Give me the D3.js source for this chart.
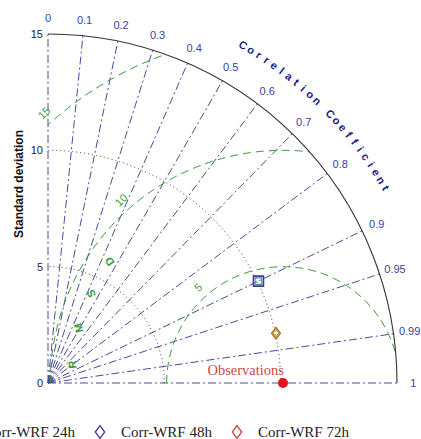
<!DOCTYPE html>
<html>
<head>
<meta charset="utf-8">
<script src="https://cdn.jsdelivr.net/npm/d3@7"></script>
<style>
  html, body { margin: 0; padding: 0; background: #fff; }
  svg { display: block; }
</style>
</head>
<body>
<svg id="chart" width="421" height="439"></svg>
<script>
// Taylor diagram: WRF forecasts against observations

const corrTicks = [0, 0.1, 0.2, 0.3, 0.4, 0.5, 0.6, 0.7, 0.8, 0.9, 0.95, 0.99, 1];
const stdTicks = [0, 5, 10, 15];
const stdGrid = [5, 10];
const rmsdTicks = [5, 10, 15];
const obsStd = 10.1;

// plotted model points
const pointStd = [10.05, 10.03];
const pointCorr = [0.90, 0.977];
const pointShape = ["square", "diamond"];
const pointOuter = ["#4e3590", "#c0702c"];
const pointInner = ["#3a9f9a", "#9fae3a"];

// legend entries
const legendNames = ["Corr-WRF 24h", "Corr-WRF 48h", "Corr-WRF 72h"];
const legendShape = ["square", "diamond", "diamond"];
const legendColor = ["#3a9f6a", "#3a3aa8", "#d04040"];

const svg = d3.select("#chart");
const ox = 48, oy = 383;
const maxStd = 15;
const r = d3.scaleLinear().domain([0, maxStd]).range([0, 349]);

const g = svg.append("g").attr("transform", `translate(${ox},${oy})`);

// helpers: polar -> screen (relative to origin)
const px = (s, a) => r(s) * Math.cos(a);
const py = (s, a) => -r(s) * Math.sin(a);

// clip region: quarter disc of the diagram
svg.append("defs").append("clipPath").attr("id", "quarter")
  .append("path")
  .attr("d", `M0,0 L${r(maxStd)},0 A${r(maxStd)},${r(maxStd)} 0 0 0 0,${-r(maxStd)} Z`);

// correlation rays
const blue = "#4a4a9c";
g.selectAll("line.corr").data(corrTicks).join("line")
  .attr("class", "corr")
  .attr("x1", 0).attr("y1", 0)
  .attr("x2", d => px(maxStd, Math.acos(d)))
  .attr("y2", d => py(maxStd, Math.acos(d)))
  .attr("stroke", blue).attr("stroke-width", 1)
  .attr("stroke-dasharray", "8,3,2,3");

// std dev dotted arcs
const quarterArc = s => {
  const R = r(s);
  return `M${R},0 A${R},${R} 0 0 0 0,${-R}`;
};
g.selectAll("path.stdgrid").data(stdGrid).join("path")
  .attr("class", "stdgrid")
  .attr("d", quarterArc)
  .attr("fill", "none").attr("stroke", "#222").attr("stroke-width", 0.9)
  .attr("stroke-dasharray", "1,3");

// RMSD arcs centred on the observation
const obsX = r(obsStd);
const rmsdG = g.append("g").attr("clip-path", "url(#quarter)");
rmsdG.selectAll("path.rmsd").data(rmsdTicks).join("path")
  .attr("class", "rmsd")
  .attr("d", d => {
    const R = r(d);
    return `M${obsX - R},0 A${R},${R} 0 0 1 ${obsX + R},0`;
  })
  .attr("fill", "none").attr("stroke", "#3a9a3a").attr("stroke-width", 1)
  .attr("stroke-dasharray", "8,5");

// RMSD labels
const rmsdLabelAngle = 131.5 * Math.PI / 180;
g.selectAll("text.rmsdlab").data(rmsdTicks).join("text")
  .attr("class", "rmsdlab")
  .attr("transform", d => {
    const x = obsX + r(d + 0.5) * Math.cos(rmsdLabelAngle);
    const y = -r(d + 0.5) * Math.sin(rmsdLabelAngle);
    return `translate(${x},${y}) rotate(-45)`;
  })
  .attr("text-anchor", "middle").attr("dominant-baseline", "central")
  .attr("font-family", "Liberation Sans, Arial, sans-serif")
  .attr("font-size", 11).attr("fill", "#3a9a3a")
  .text(d => d);

// RMSD title letters along an arc
const rmsdTitle = "RMSD".split("");
const rmsdTitleR = 9.1;
g.selectAll("text.rmsdtitle").data(rmsdTitle).join("text")
  .attr("class", "rmsdtitle")
  .attr("transform", (d, i) => {
    const th = (175 - 10 * i);
    const a = th * Math.PI / 180;
    const x = obsX + r(rmsdTitleR) * Math.cos(a);
    const y = -r(rmsdTitleR) * Math.sin(a);
    return `translate(${x},${y}) rotate(${th - 180 - 90})`;
  })
  .attr("text-anchor", "middle").attr("dominant-baseline", "central")
  .attr("font-family", "Liberation Sans, Arial, sans-serif")
  .attr("font-size", 11).attr("font-weight", "bold").attr("fill", "#3a9a3a")
  .text(d => d);

// outer boundary arc
g.append("path")
  .attr("d", quarterArc(maxStd))
  .attr("fill", "none").attr("stroke", "#333").attr("stroke-width", 1.1);

// correlation tick labels
g.selectAll("text.corrlab").data(corrTicks).join("text")
  .attr("class", "corrlab")
  .attr("x", d => px(15.7, Math.acos(d)))
  .attr("y", d => py(15.7, Math.acos(d)))
  .attr("text-anchor", "middle").attr("dominant-baseline", "central")
  .attr("font-family", "Liberation Sans, Arial, sans-serif")
  .attr("font-size", 11).attr("fill", "#3d3d9e")
  .text(d => d);

// correlation title along the arc
const corrTitle = "Correlation Coefficient".split("");
const corrTitleR = 16.77;
g.selectAll("text.corrtitle").data(corrTitle).join("text")
  .attr("class", "corrtitle")
  .attr("transform", (d, i) => {
    const th = 60 - i * (30 / (corrTitle.length - 1));
    const a = th * Math.PI / 180;
    return `translate(${px(corrTitleR, a)},${py(corrTitleR, a)}) rotate(${90 - th})`;
  })
  .attr("text-anchor", "middle").attr("dominant-baseline", "central")
  .attr("font-family", "Liberation Sans, Arial, sans-serif")
  .attr("font-size", 11).attr("font-weight", "bold").attr("fill", "#1c1c84")
  .text(d => d);

// std dev tick labels
g.selectAll("text.stdlab").data(stdTicks).join("text")
  .attr("class", "stdlab")
  .attr("x", -5)
  .attr("y", d => -r(d))
  .attr("text-anchor", "end").attr("dominant-baseline", "central")
  .attr("font-family", "Liberation Sans, Arial, sans-serif")
  .attr("font-size", 11).attr("fill", "#222")
  .text(d => d);

// y-axis title
svg.append("text")
  .attr("transform", "translate(23,184) rotate(-90)")
  .attr("text-anchor", "middle")
  .attr("font-family", "Liberation Sans, Arial, sans-serif")
  .attr("font-size", 12).attr("font-weight", "bold").attr("fill", "#111")
  .text("Standard deviation");

// observation point and label
g.append("circle")
  .attr("cx", obsX).attr("cy", 0).attr("r", 5)
  .attr("fill", "#e8101a");
g.append("text")
  .attr("x", obsX + 1).attr("y", -8)
  .attr("text-anchor", "end")
  .attr("font-family", "Liberation Serif, Times New Roman, serif")
  .attr("font-size", 14.5).attr("fill", "#d04848")
  .text("Observations");

// marker path generator
const markerPath = (shape, size) => {
  const h = size / 2;
  if (shape === "square") return `M${-h},${-h}H${h}V${h}H${-h}Z`;
  const w = h * 0.85;
  return `M0,${-h * 1.15}L${w},0L0,${h * 1.15}L${-w},0Z`;
};

// model points
const pts = pointStd.map((s, i) => ({
  x: px(s, Math.acos(pointCorr[i])),
  y: py(s, Math.acos(pointCorr[i])),
  shape: pointShape[i], outer: pointOuter[i], inner: pointInner[i]
}));
const ptG = g.selectAll("g.pt").data(pts).join("g")
  .attr("class", "pt")
  .attr("transform", d => `translate(${d.x},${d.y})`);
ptG.append("path")
  .attr("d", d => markerPath(d.shape, 10))
  .attr("fill", "none").attr("stroke", d => d.outer).attr("stroke-width", 1.6);
ptG.append("path")
  .attr("d", d => markerPath(d.shape, 6.5))
  .attr("fill", "none").attr("stroke", d => d.inner).attr("stroke-width", 1.1);

// legend
const legG = svg.append("g").attr("transform", "translate(-37,432)");
const item = legG.selectAll("g.leg").data(legendNames).join("g")
  .attr("class", "leg")
  .attr("transform", (d, i) => `translate(${i * 137},0)`);
item.append("path")
  .attr("d", (d, i) => markerPath(legendShape[i], 11))
  .attr("fill", "none").attr("stroke", (d, i) => legendColor[i]).attr("stroke-width", 1.3);
item.append("text")
  .attr("x", 21).attr("y", 0)
  .attr("dominant-baseline", "central")
  .attr("font-family", "Liberation Serif, Times New Roman, serif")
  .attr("font-size", 15).attr("fill", "#222")
  .text(d => d);
</script>
</body>
</html>
